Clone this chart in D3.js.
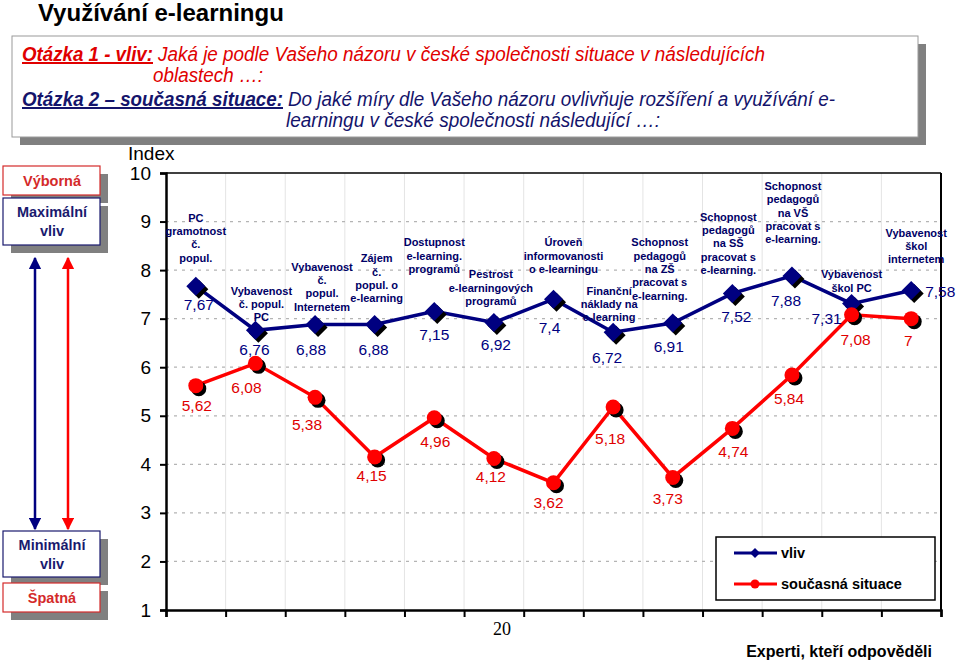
<!DOCTYPE html>
<html>
<head>
<meta charset="utf-8">
<script src="https://cdn.jsdelivr.net/npm/d3@7"></script>
<style>
  html, body { margin: 0; padding: 0; background: #fff; }
  svg { display: block; font-family: Arial, "Liberation Sans", sans-serif; }
</style>
</head>
<body>
<svg id="chart" width="960" height="661"></svg>
<script>
// ---------------- DATA ----------------
const categories = [
  ["PC", "gramotnost", "č.", "popul."],
  ["Vybavenost", "č. popul.", "PC"],
  ["Vybavenost", "č.", "popul.", "Internetem"],
  ["Zájem", "č.", "popul. o", "e-learning"],
  ["Dostupnost", "e-learning.", "programů"],
  ["Pestrost", "e-learningových", "programů"],
  ["Úroveň", "informovanosti", "o e-learningu"],
  ["Finanční", "náklady na", "e-learning"],
  ["Schopnost", "pedagogů", "na ZŠ", "pracovat s", "e-learning."],
  ["Schopnost", "pedagogů", "na SŠ", "pracovat s", "e-learning."],
  ["Schopnost", "pedagogů", "na VŠ", "pracovat s", "e-learning."],
  ["Vybavenost", "škol PC"],
  ["Vybavenost", "škol", "internetem"]
];
const vliv     = [7.67, 6.76, 6.88, 6.88, 7.15, 6.92, 7.4, 6.72, 6.91, 7.52, 7.88, 7.31, 7.58];
const situace  = [5.62, 6.08, 5.38, 4.15, 4.96, 4.12, 3.62, 5.18, 3.73, 4.74, 5.84, 7.08, 7];
const yTicks   = [1, 2, 3, 4, 5, 6, 7, 8, 9, 10];
const seriesNames = ["vliv", "současná situace"];

// ---------------- LAYOUT (not data) ----------------
// top line of each category caption, in index units
const captionTop = [9.08, 7.58, 8.07, 8.24, 8.57, 7.91, 8.57, 7.58, 8.57, 9.10, 9.73, 7.91, 8.77];
const captionDx  = [0, 6, 7, 2, 0, -3, 10, -4, -13, -4, 1, 0, 5];
const vlivNudge  = [[3,18],[-1,19],[-4,25],[-1,25],[0,23],[2,21],[-4,28],[-6,25],[-4,23],[4,23],[-6,24],[-25,14],[14,0]];
const sitNudge   = [[1,19],[-9,24],[-8,27],[-3,18],[1,23],[-3,17],[-5,19],[-3,31],[-5,21],[1,23],[-3,23],[4,24],[-3,21]];

const NAVY = "#000080", RED = "#ff0000", TXTRED = "#e00000", TXTNAVY = "#14146b";

const svg = d3.select("#chart");
svg.append("rect").attr("width", 960).attr("height", 661).attr("fill", "#fff");

// ---------------- defs ----------------
const defs = svg.append("defs");
function arrowMarker(id, color) {
  defs.append("marker").attr("id", id).attr("viewBox", "0 0 10 10")
    .attr("refX", 9).attr("refY", 5).attr("markerWidth", 5).attr("markerHeight", 5)
    .attr("orient", "auto-start-reverse")
    .append("path").attr("d", "M0,0 L10,5 L0,10 z").attr("fill", color);
}
arrowMarker("arrNavy", NAVY);
arrowMarker("arrRed", RED);

// ---------------- Title ----------------
svg.append("text").attr("x", 38).attr("y", 21)
  .attr("font-size", 24).attr("font-weight", "bold").attr("fill", "#000")
  .text("Využívání e-learningu");

// ---------------- Question box ----------------
svg.append("rect").attr("x", 20).attr("y", 44).attr("width", 906).attr("height", 101).attr("fill", "#808080");
svg.append("rect").attr("x", 12).attr("y", 36).attr("width", 906).attr("height", 101)
  .attr("fill", "#fff").attr("stroke", "#9a9a9a").attr("stroke-width", 1);

function qText(x, y, str, len, color, bold, underline) {
  svg.append("text").attr("x", x).attr("y", y)
    .attr("font-size", 20).attr("font-style", "italic")
    .attr("font-weight", bold ? "bold" : "normal")
    .attr("fill", color)
    .attr("text-decoration", underline ? "underline" : null)
    .attr("textLength", len).attr("lengthAdjust", "spacingAndGlyphs")
    .text(str);
}
qText(22, 61, "Otázka 1 - vliv:", 131, TXTRED, true, true);
qText(158, 61, "Jaká je podle Vašeho názoru v české společnosti situace v následujících", 607, TXTRED, false, false);
qText(153, 82, "oblastech …:", 110, TXTRED, false, false);
qText(22, 106, "Otázka 2 – současná situace:", 261, TXTNAVY, true, true);
qText(288, 106, "Do jaké míry dle Vašeho názoru ovlivňuje rozšíření a využívání e-", 547, TXTNAVY, false, false);
qText(286, 127, "learningu v české  společnosti následující …:", 374, TXTNAVY, false, false);

// ---------------- Left side boxes ----------------
function sideBox(y, h, lines, color) {
  svg.append("rect").attr("x", 11).attr("y", y + 8).attr("width", 97).attr("height", h).attr("fill", "#808080");
  svg.append("rect").attr("x", 3).attr("y", y).attr("width", 97).attr("height", h)
    .attr("fill", "#fff").attr("stroke", color).attr("stroke-width", 1.2);
  const t = svg.append("text").attr("text-anchor", "middle").attr("font-size", 14.5)
    .attr("font-weight", "bold").attr("fill", color);
  const lh = 19;
  const y0 = y + h / 2 - (lines.length - 1) * lh / 2 + 5;
  lines.forEach((l, i) => t.append("tspan").attr("x", 52).attr("y", y0 + i * lh).text(l));
}
sideBox(166, 29, ["Výborná"], "#d42a2a");
sideBox(198, 47, ["Maximální", "vliv"], "#1a1a6e");
sideBox(531, 46, ["Minimální", "vliv"], "#1a1a6e");
sideBox(583, 29, ["Špatná"], "#d42a2a");

svg.append("line").attr("x1", 35).attr("x2", 35).attr("y1", 258).attr("y2", 529)
  .attr("stroke", NAVY).attr("stroke-width", 2.5)
  .attr("marker-start", "url(#arrNavy)").attr("marker-end", "url(#arrNavy)");
svg.append("line").attr("x1", 68).attr("x2", 68).attr("y1", 258).attr("y2", 529)
  .attr("stroke", RED).attr("stroke-width", 2.5)
  .attr("marker-start", "url(#arrRed)").attr("marker-end", "url(#arrRed)");

// ---------------- Scales ----------------
const x = d3.scaleBand().domain(d3.range(categories.length)).range([166, 941]);
const xb = d3.scaleLinear().domain([0, categories.length]).range([166, 941]);
const y = d3.scaleLinear().domain([1, 10]).range([610, 173]);
const cx = i => x(i) + x.bandwidth() / 2;

// grid
const g = svg.append("g");
g.selectAll(".vg").data(d3.range(1, categories.length)).join("line")
  .attr("x1", d => xb(d)).attr("x2", d => xb(d)).attr("y1", y(10)).attr("y2", y(1))
  .attr("stroke", "#e4e4e4").attr("stroke-width", 1);
g.selectAll(".hg").data(yTicks.filter(d => d > 1 && d < 10)).join("line")
  .attr("x1", 166).attr("x2", 941).attr("y1", d => y(d)).attr("y2", d => y(d))
  .attr("stroke", "#b4b4b4").attr("stroke-width", 1.2).attr("stroke-dasharray", "3,5");

// frame top & right
g.append("line").attr("x1", 166).attr("x2", 941).attr("y1", y(10)).attr("y2", y(10)).attr("stroke", "#000").attr("stroke-width", 1.5);
g.append("line").attr("x1", 941).attr("x2", 941).attr("y1", y(10)).attr("y2", y(1)).attr("stroke", "#000").attr("stroke-width", 2);

// axes
const yAxis = svg.append("g").attr("transform", "translate(166,0)")
  .call(d3.axisLeft(y).tickValues(yTicks).tickSize(6).tickPadding(9).tickFormat(d3.format("d")));
yAxis.select(".domain").attr("stroke-width", 2.5);
yAxis.selectAll(".tick line").attr("stroke-width", 2);
yAxis.selectAll(".tick text").attr("font-size", 19).attr("font-family", "Arial, 'Liberation Sans', sans-serif").attr("fill", "#000");

const xAxis = svg.append("g").attr("transform", "translate(0,610)")
  .call(d3.axisBottom(xb).tickValues(d3.range(categories.length + 1)).tickSize(7).tickFormat(""));
xAxis.select(".domain").attr("stroke-width", 2.5);
xAxis.selectAll(".tick line").attr("stroke-width", 2);

svg.append("text").attr("x", 128).attr("y", 160).attr("font-size", 19).attr("fill", "#000").text("Index");

// ---------------- Series ----------------
const line = d3.line().x((d, i) => cx(i)).y(d => y(d));
svg.append("path").datum(vliv).attr("d", line).attr("fill", "none").attr("stroke", NAVY).attr("stroke-width", 3.5);
svg.append("path").datum(situace).attr("d", line).attr("fill", "none").attr("stroke", RED).attr("stroke-width", 3.5);

const diamond = (px, py, r) => `M${px},${py - r}L${px + r},${py}L${px},${py + r}L${px - r},${py}Z`;

// shadows
svg.selectAll(".ds").data(vliv).join("path").attr("d", (d, i) => diamond(cx(i) + 3, y(d) + 3, 9.5)).attr("fill", "#000");
svg.selectAll(".dm").data(vliv).join("path").attr("d", (d, i) => diamond(cx(i), y(d), 9.5)).attr("fill", NAVY);
svg.selectAll(".cs").data(situace).join("circle").attr("cx", (d, i) => cx(i) + 3).attr("cy", d => y(d) + 3).attr("r", 7.5).attr("fill", "#000");
svg.selectAll(".cm").data(situace).join("circle").attr("cx", (d, i) => cx(i)).attr("cy", d => y(d)).attr("r", 7.5).attr("fill", RED);

const fmt = v => String(v).replace(".", ",");
svg.selectAll(".vl").data(vliv).join("text")
  .attr("x", (d, i) => cx(i) + vlivNudge[i][0]).attr("y", (d, i) => y(d) + vlivNudge[i][1] + 6)
  .attr("text-anchor", (d, i) => i === vliv.length - 1 ? "start" : "middle")
  .attr("font-size", 15.5).attr("fill", NAVY).text(fmt);
svg.selectAll(".sl").data(situace).join("text")
  .attr("x", (d, i) => cx(i) + sitNudge[i][0]).attr("y", (d, i) => y(d) + sitNudge[i][1] + 6)
  .attr("text-anchor", "middle")
  .attr("font-size", 15.5).attr("fill", TXTRED).text(fmt);

// category captions
categories.forEach((lines, i) => {
  const t = svg.append("text").attr("text-anchor", "middle").attr("font-size", 11)
    .attr("font-weight", "bold").attr("fill", "#000066");
  lines.forEach((l, k) => t.append("tspan").attr("x", cx(i) + captionDx[i])
    .attr("y", y(captionTop[i]) + 4 + k * 13.3).text(l));
});

// ---------------- Legend ----------------
const lg = svg.append("g");
lg.append("rect").attr("x", 716).attr("y", 537).attr("width", 219).attr("height", 63)
  .attr("fill", "#fff").attr("stroke", "#000").attr("stroke-width", 1.5);
[[NAVY, "diamond"], [RED, "circle"]].forEach(([c, m], k) => {
  const ly = 553 + k * 31;
  lg.append("line").attr("x1", 734).attr("x2", 777).attr("y1", ly).attr("y2", ly).attr("stroke", c).attr("stroke-width", 3);
  if (m === "diamond") lg.append("path").attr("d", diamond(755, ly, 5)).attr("fill", c);
  else lg.append("circle").attr("cx", 755).attr("cy", ly).attr("r", 4.5).attr("fill", c);
  lg.append("text").attr("x", 781).attr("y", ly + 5).attr("font-size", 14.5).attr("font-weight", "bold")
    .attr("fill", "#000").text(seriesNames[k]);
});

// ---------------- Misc texts ----------------
svg.append("text").attr("x", 493).attr("y", 635).attr("font-size", 18)
  .attr("font-family", "'Liberation Serif', 'Times New Roman', serif").attr("fill", "#000").text("20");
svg.append("text").attr("x", 932).attr("y", 657).attr("text-anchor", "end").attr("font-size", 16)
  .attr("font-weight", "bold").attr("fill", "#000").text("Experti, kteří odpověděli");
</script>
</body>
</html>
